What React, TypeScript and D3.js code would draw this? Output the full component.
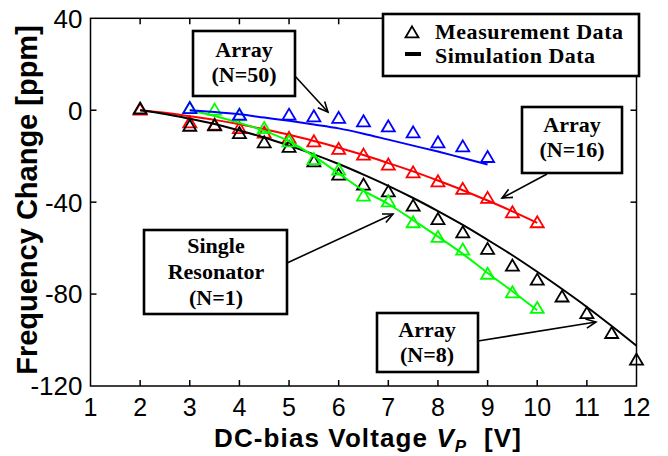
import React from "react";
import * as d3 from "d3";

// ---- data ----
const xTicks = [1, 2, 3, 4, 5, 6, 7, 8, 9, 10, 11, 12];
const yTicks = [40, 0, -40, -80, -120];

// Array N=8 (black)
const n8MeasV = [2, 3, 3.5, 4, 4.5, 5, 5.5, 6, 6.5, 7, 7.5, 8, 8.5, 9, 9.5, 10, 10.5, 11, 11.5, 12];
const n8MeasF = [0.5, -7, -6.8, -10.2, -14.2, -16.2, -22.5, -28.3, -32.6, -35.6, -41.8, -47.6, -53.4, -60.6, -67.9, -74.0, -81.3, -88.5, -97.2, -108.8];
const n8SimV = [2, 2.5, 3, 3.5, 4, 4.5, 5, 5.5, 6, 6.5, 7, 7.5, 8, 8.5, 9, 9.5, 10, 10.5, 11, 11.5, 12];
const n8SimF = [0, -1.6, -3.7, -6.0, -8.8, -11.9, -15.4, -19.2, -23.4, -28.0, -32.9, -38.2, -43.9, -49.9, -56.4, -63.1, -70.3, -77.8, -85.6, -93.9, -102.5];

// Array N=16 (red)
const n16MeasV = [2, 3, 3.5, 4, 4.5, 5, 5.5, 6, 6.5, 7, 7.5, 8, 8.5, 9, 9.5, 10];
const n16MeasF = [0, -5.5, -6.5, -8, -10, -12.3, -13.8, -17.1, -19.6, -23.9, -27.3, -31.2, -34.5, -38.4, -44.7, -49];
const n16SimV = [2, 2.5, 3, 3.5, 4, 4.5, 5, 5.5, 6, 6.5, 7, 7.5, 8, 8.5, 9, 9.5, 10];
const n16SimF = [0, -1.1, -2.6, -4.2, -6.1, -8.3, -10.7, -13.4, -16.3, -19.5, -23.0, -26.6, -30.6, -34.8, -39.3, -44.0, -49.0];

// Array N=50 (blue)
const n50MeasV = [3, 4, 5, 5.5, 6, 6.5, 7, 7.5, 8, 8.5, 9];
const n50MeasF = [0.7, -2.2, -2.2, -2.9, -3.6, -5.1, -7.3, -9.9, -14.2, -16, -20.6];
const n50SimV = [3, 3.5, 4, 4.5, 5, 5.5, 6, 6.5, 7, 7.5, 8, 8.5, 9];
const n50SimF = [0, -0.8, -1.8, -3.2, -4.6, -6.2, -7.9, -10.2, -12.8, -15.4, -18, -20.8, -23.6];

// Single resonator N=1 (green)
const n1MeasV = [3, 3.5, 4, 4.5, 5, 5.5, 6, 6.5, 7, 7.5, 8, 8.5, 9, 9.5, 10];
const n1MeasF = [0.7, 0, -2.5, -8, -13.8, -21.5, -26.1, -37.4, -39.9, -49, -55.4, -60.9, -71.4, -79.5, -86.3];
const n1SimV = [3, 3.5, 4, 4.5, 5, 5.5, 6, 6.5, 7, 7.5, 8, 8.5, 9, 9.5, 10];
const n1SimF = [0, -2.5, -5.5, -9, -13.5, -20, -27.5, -35, -40.8, -47.8, -55, -62.5, -70.8, -78.8, -87];

const seriesColors = ["#ff0000", "#000000", "#00ff00", "#0000ff"];

const W = 668;
const H = 456;

const x = d3.scaleLinear().domain([1, 12]).range([90.5, 636.5]);
const y = d3.scaleLinear().domain([-120, 40]).range([386, 18.3]);

const line = d3
  .line<[number, number]>()
  .x((d) => x(d[0]))
  .y((d) => y(d[1]))
  .curve(d3.curveMonotoneX);

const zip = (a: number[], b: number[]) => a.map((v, i) => [v, b[i]] as [number, number]);

const series = [
  { sim: zip(n16SimV, n16SimF), meas: zip(n16MeasV, n16MeasF), color: seriesColors[0] },
  { sim: zip(n8SimV, n8SimF), meas: zip(n8MeasV, n8MeasF), color: seriesColors[1] },
  { sim: zip(n1SimV, n1SimF), meas: zip(n1MeasV, n1MeasF), color: seriesColors[2] },
  { sim: zip(n50SimV, n50SimF), meas: zip(n50MeasV, n50MeasF), color: seriesColors[3] },
];

const tri = (cx: number, cy: number, s = 13) => {
  const h = s * 0.85;
  return `M${cx},${cy - h * 0.6}L${cx + s / 2},${cy + h * 0.4}L${cx - s / 2},${cy + h * 0.4}Z`;
};

const Arrow = ({ x1, y1, x2, y2 }: { x1: number; y1: number; x2: number; y2: number }) => {
  const ang = Math.atan2(y2 - y1, x2 - x1);
  const L = 11;
  const a = (25 * Math.PI) / 180;
  const p1 = [x2 - L * Math.cos(ang - a), y2 - L * Math.sin(ang - a)];
  const p2 = [x2 - L * Math.cos(ang + a), y2 - L * Math.sin(ang + a)];
  return (
    <g stroke="#000" strokeWidth={1.6} fill="none">
      <line x1={x1} y1={y1} x2={x2} y2={y2} />
      <polyline points={`${p1[0]},${p1[1]} ${x2},${y2} ${p2[0]},${p2[1]}`} />
    </g>
  );
};

const serif = "'Liberation Serif', 'Times New Roman', serif";
const sans = "'Liberation Sans', Arial, sans-serif";

const Box = ({ x0, y0, x1, y1, lines, baselines, cx }: any) => (
  <g>
    <rect x={x0} y={y0} width={x1 - x0} height={y1 - y0} fill="#fff" stroke="#000" strokeWidth={2.6} />
    {lines.map((t: string, i: number) => (
      <text key={i} x={cx} y={baselines[i]} textAnchor="middle" fontFamily={serif} fontWeight="bold" fontSize={22} fill="#000">
        {t}
      </text>
    ))}
  </g>
);

export default function App() {
  const x0 = x(1), x1 = x(12), yTop = y(40), yBot = y(-120);
  return (
    <svg width={W} height={H} style={{ position: "absolute", left: 0, top: 0, background: "#fff" }}>
      <rect x={0} y={0} width={W} height={H} fill="#fff" />
      {/* data */}
      {series.map((s, i) => (
        <g key={i}>
          <path d={line(s.sim) || ""} fill="none" stroke={s.color} strokeWidth={2} />
          {s.meas.map((p, j) => (
            <path key={j} d={tri(x(p[0]), y(p[1]))} fill="none" stroke={s.color} strokeWidth={1.8} />
          ))}
        </g>
      ))}
      {/* axes frame */}
      <g stroke="#000" strokeWidth={1.5} fill="none">
        <rect x={x0} y={yTop} width={x1 - x0} height={yBot - yTop} />
        {xTicks.slice(1, -1).map((t) => (
          <g key={t}>
            <line x1={x(t)} x2={x(t)} y1={yBot} y2={yBot - 6} />
            <line x1={x(t)} x2={x(t)} y1={yTop} y2={yTop + 6} />
          </g>
        ))}
        {yTicks.slice(1, -1).map((t) => (
          <g key={t}>
            <line x1={x0} x2={x0 + 6} y1={y(t)} y2={y(t)} />
            <line x1={x1} x2={x1 - 6} y1={y(t)} y2={y(t)} />
          </g>
        ))}
      </g>
      {/* tick labels */}
      {xTicks.map((t) => (
        <text key={t} x={x(t)} y={yBot + 30} textAnchor="middle" fontFamily={sans} fontSize={25} fill="#000">
          {t}
        </text>
      ))}
      {yTicks.map((t) => (
        <text key={t} x={x0 - 8} y={y(t)} dy="0.36em" textAnchor="end" fontFamily={sans} fontSize={26} fill="#000">
          {t}
        </text>
      ))}
      {/* axis titles */}
      <text transform="translate(37,200) rotate(-90)" textAnchor="middle" fontFamily={sans} fontWeight="bold" fontSize={29} fill="#000">
        Frequency Change [ppm]
      </text>
      <text x={368} y={447} textAnchor="middle" fontFamily={sans} fontWeight="bold" fontSize={26} letterSpacing={1.1} fill="#000">
        DC-bias Voltage <tspan fontStyle="italic">V</tspan>
        <tspan fontStyle="italic" fontSize={17} dy={5}>P</tspan>
        <tspan dy={-5}>{"\u00a0\u00a0[V]"}</tspan>
      </text>
      {/* legend */}
      <g>
        <rect x={383} y={14} width={256} height={62} fill="#fff" stroke="#000" strokeWidth={2.6} />
        <path d={tri(412, 33, 13)} fill="none" stroke="#000" strokeWidth={1.8} />
        <line x1={405} x2={421} y1={54} y2={54} stroke="#000" strokeWidth={4} />
        <text x={435} y={39} fontFamily={serif} fontWeight="bold" fontSize={22} textLength={188} fill="#000">
          Measurement  Data
        </text>
        <text x={435} y={63} fontFamily={serif} fontWeight="bold" fontSize={22} textLength={160} fill="#000">
          Simulation  Data
        </text>
      </g>
      {/* annotations */}
      <Arrow x1={294} y1={75} x2={328} y2={112} />
      <Box x0={193} y0={31} x1={295} y1={96} cx={244} lines={["Array", "(N=50)"]} baselines={[57, 82]} />
      <Arrow x1={547} y1={174} x2={502} y2={198} />
      <Box x0={522} y0={107} x1={622} y1={173} cx={572} lines={["Array", "(N=16)"]} baselines={[132, 157]} />
      <Arrow x1={287} y1={263} x2={393} y2={214} />
      <Box x0={144} y0={230} x1={287} y1={314} cx={216} lines={["Single", "Resonator", "(N=1)"]} baselines={[253, 279, 305]} />
      <Arrow x1={478} y1={341} x2={596} y2={322} />
      <Box x0={377} y0={313} x1={478} y1={372} cx={427} lines={["Array", "(N=8)"]} baselines={[337, 362]} />
    </svg>
  );
}
